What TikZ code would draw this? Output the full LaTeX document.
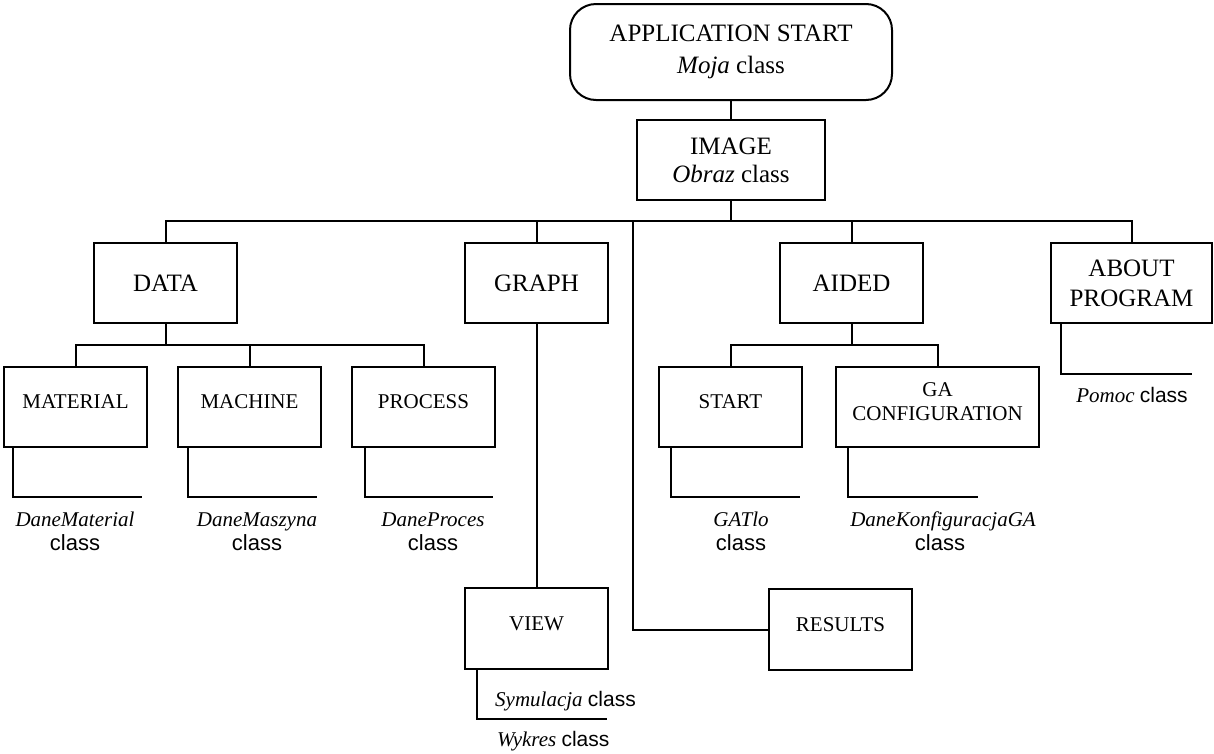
\documentclass[tikz,border=0pt]{standalone}
\usepackage{fontspec}
\setmainfont{Liberation Serif}
\newfontfamily\arialf{Liberation Sans}
\tikzset{
  box/.style={draw, line width=2pt, rectangle, inner sep=0pt, align=center},
  topbox/.style={box, minimum width=143pt, minimum height=80pt, font=\fontsize{25}{30}\selectfont},
  subbox/.style={box, minimum width=143pt, minimum height=80pt, font=\fontsize{21}{24}\selectfont, text depth=10pt},
  lbl/.style={font=\fontsize{21}{25}\selectfont, anchor=base, inner sep=0pt},
  cls/.style={lbl, font=\fontsize{22}{25}\arialf},
  wire/.style={line width=2pt},
}
\begin{document}
\begin{tikzpicture}[x=1pt, y=-1pt]
\useasboundingbox (0,0) rectangle (1214,753);
% top
\node[box, rounded corners=26pt, minimum width=322pt, minimum height=96pt,
      font=\fontsize{25}{32}\selectfont] (app) at (731,52) {APPLICATION START\\\textit{Moja} class};
\node[box, minimum width=188pt, minimum height=80pt,
      font=\fontsize{25}{28}\selectfont] (img) at (731,160) {IMAGE\\\textit{Obraz} class};
% level 1
\node[topbox] (data) at (165.5,283) {DATA};
\node[topbox] (graph) at (536.5,283) {GRAPH};
\node[topbox] (aided) at (851.5,283) {AIDED};
\node[topbox, minimum width=161pt, font=\fontsize{25}{30}\selectfont] (about) at (1131.5,283) {ABOUT\\PROGRAM};
% level 2
\node[subbox] (material) at (75.5,407) {MATERIAL};
\node[subbox] (machine) at (249.5,407) {MACHINE};
\node[subbox] (process) at (423.5,407) {PROCESS};
\node[subbox] (start) at (730.5,407) {START};
\node[subbox, minimum width=203pt, text depth=11pt] (gacfg) at (937.5,407) {GA\\CONFIGURATION};
\node[subbox, minimum height=81pt] (view) at (536.5,628.5) {VIEW};
\node[subbox, minimum height=81pt] (results) at (840.5,629.5) {RESULTS};
% bus coordinates
\coordinate (bus) at (0,221);
\coordinate (dbus) at (0,345);
\coordinate (longtop) at (633,221);
% connectors
\draw[wire] (app.south) -- (img.north);
\draw[wire] (img.south) -- (img.south |- bus);
\draw[wire] (data.north) -- (data.north |- bus) -- (about.north |- bus) -- (about.north);
\draw[wire] (graph.north) -- (graph.north |- bus);
\draw[wire] (aided.north) -- (aided.north |- bus);
\draw[wire] (longtop) |- (results.west);
\draw[wire] (graph.south) -- (view.north);
% data sub-bus
\draw[wire] (data.south) -- (data.south |- dbus);
\draw[wire] (material.north) -- (material.north |- dbus) -- (process.north |- dbus) -- (process.north);
\draw[wire] (machine.north) -- (machine.north |- dbus);
% aided sub-bus
\draw[wire] (aided.south) -- (aided.south |- dbus);
\draw[wire] (start.north) -- (start.north |- dbus) -- (gacfg.north |- dbus) -- (gacfg.north);
% L connectors to class labels
\coordinate (matE) at (142,497);
\coordinate (macE) at (317,497);
\coordinate (proE) at (493,497);
\coordinate (staE) at (800,497);
\coordinate (gaE) at (978,497);
\coordinate (abE) at (1192,374);
\coordinate (viE) at (607,719);
\draw[wire] ([xshift=10pt]material.south west) |- (matE);
\draw[wire] ([xshift=11pt]machine.south west) |- (macE);
\draw[wire] ([xshift=14pt]process.south west) |- (proE);
\draw[wire] ([xshift=13pt]start.south west) |- (staE);
\draw[wire] ([xshift=13pt]gacfg.south west) |- (gaE);
\draw[wire] ([xshift=11pt]about.south west) |- (abE);
\draw[wire] ([xshift=13pt]view.south west) |- (viE);
% labels
\node[lbl] (lmat) at (75,526) {\itshape DaneMaterial};
\node[cls] (lmatc) at (75,550) {class};
\node[lbl] (lmac) at (257,526) {\itshape DaneMaszyna};
\node[cls] (lmacc) at (257,550) {class};
\node[lbl] (lpro) at (433,526) {\itshape DaneProces};
\node[cls] (lproc) at (433,550) {class};
\node[lbl] (lsta) at (741,526) {\itshape GATlo};
\node[cls] (lstac) at (741,550) {class};
\node[lbl] (lga) at (943,526) {\itshape DaneKonfiguracjaGA};
\node[cls] (lgac) at (940,550) {class};
\node[lbl] (lab) at (1132,402) {\textit{Pomoc} {\arialf class}};
\node[lbl, anchor=base west] (lsym) at (495,706) {\textit{Symulacja} {\arialf class}};
\node[lbl, anchor=base west] (lwyk) at (497,746) {\textit{Wykres} {\arialf class}};
\end{tikzpicture}
\end{document}
